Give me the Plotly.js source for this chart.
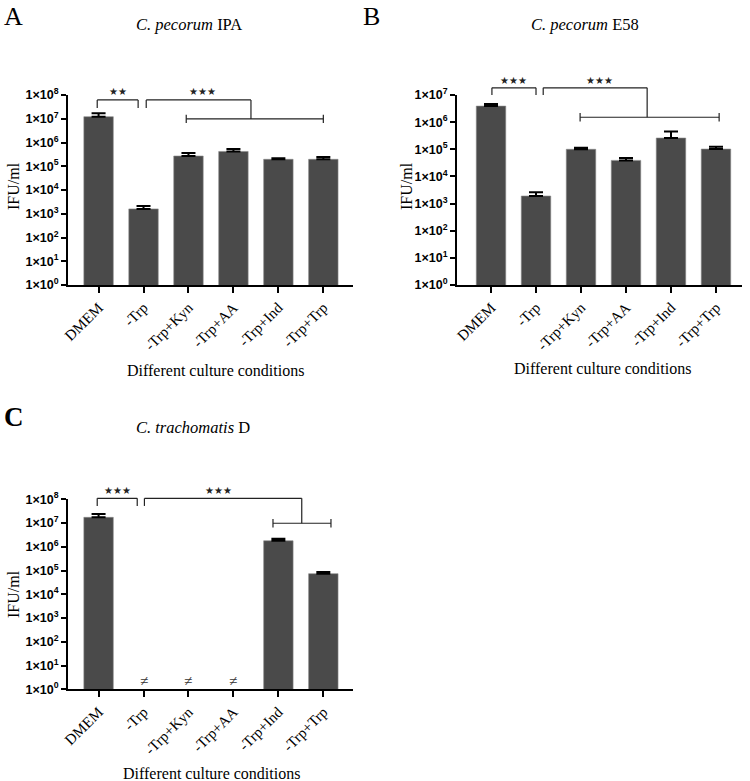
<!DOCTYPE html>
<html>
<head>
<meta charset="utf-8">
<script src="https://cdn.plot.ly/plotly-3.0.1.min.js"></script>
<style>html,body{margin:0;padding:0;background:#fff;}#chart{width:750px;height:781px;}</style>
</head>
<body>
<div id="chart"></div>
<script>
const categories = ['DMEM', '-Trp', '-Trp+Kyn', '-Trp+AA', '-Trp+Ind', '-Trp+Trp'];
const ipaValues = [1.22e7, 1.6e3, 2.7e5, 4.2e5, 1.96e5, 1.96e5];
const ipaErrors = [5e6, 5e2, 9e4, 1.1e5, 2e4, 5e4];
const e58Values = [3.9e6, 1.9e3, 1.0e5, 3.9e4, 2.6e5, 1.02e5];
const e58Errors = [8e5, 7e2, 1.4e4, 9e3, 1.9e5, 2.3e4];
const ctdValues = [1.74e7, null, null, null, 1.8e6, 7.4e4];
const ctdErrors = [6.6e6, 0, 0, 0, 4e5, 1.3e4];
const notDetected = ['-Trp', '-Trp+Kyn', '-Trp+AA'];
const tickValsA = [1, 10, 100, 1e3, 1e4, 1e5, 1e6, 1e7, 1e8];
const tickTextA = ['1×10<sup>0</sup>', '1×10<sup>1</sup>', '1×10<sup>2</sup>', '1×10<sup>3</sup>', '1×10<sup>4</sup>', '1×10<sup>5</sup>', '1×10<sup>6</sup>', '1×10<sup>7</sup>', '1×10<sup>8</sup>'];
const tickValsB = tickValsA.slice(0, 8);
const tickTextB = tickTextA.slice(0, 8);

const W = 750, H = 781;
const px = v => v / W;
const py = v => 1 - v / H;
const BAR = '#4a4a4a';
const SERIF = 'Liberation Serif, Times New Roman, serif';
const SANS = 'Liberation Sans, Arial, sans-serif';

function barTrace(vals, errs, xa, ya) {
  return {
    type: 'bar', x: categories, y: vals, xaxis: xa, yaxis: ya,
    marker: {color: BAR, line: {color: '#8a8a8a', width: 0.6}},
    error_y: {type: 'data', array: errs, arrayminus: errs.map(() => 0), symmetric: false,
              color: '#000', thickness: 2, width: 7},
    hoverinfo: 'skip', showlegend: false
  };
}

const traces = [
  barTrace(ipaValues, ipaErrors, 'x', 'y'),
  barTrace(e58Values, e58Errors, 'x2', 'y2'),
  barTrace(ctdValues, ctdErrors, 'x3', 'y3')
];

function xAxis(domain, range) {
  return {
    domain: domain, range: range, type: 'category', showgrid: false, zeroline: false,
    showline: true, linecolor: '#000', linewidth: 2, ticks: 'outside', ticklen: 6, tickwidth: 2,
    tickcolor: '#000', tickangle: -45, tickfont: {family: SERIF, size: 15, color: '#000'},
    fixedrange: true
  };
}
function yAxis(domain, range, tv, tt, anchor) {
  return {
    domain: domain, range: range, type: 'log', anchor: anchor, showgrid: false, zeroline: false,
    showline: true, linecolor: '#000', linewidth: 2, ticks: 'outside', ticklen: 5, tickwidth: 2,
    tickcolor: '#000', tickvals: tv, ticktext: tt,
    tickfont: {family: SANS, size: 12.5, color: '#000', weight: 'bold'}, fixedrange: true
  };
}

const shapes = [];
function seg(xa, ya, x0, y0, x1, y1) {
  shapes.push({type: 'line', xref: xa, yref: ya + ' domain', x0: x0, y0: y0, x1: x1, y1: y1,
               line: {color: '#222', width: 1.2}});
}
function bracket(xa, ya, a0, a1, top, leg) {
  seg(xa, ya, a0, leg, a0, top); seg(xa, ya, a0, top, a1, top); seg(xa, ya, a1, top, a1, leg);
}
function group(xa, ya, l0, stem, top, leg, low, g0, g1) {
  seg(xa, ya, l0, leg, l0, top); seg(xa, ya, l0, top, stem, top); seg(xa, ya, stem, top, stem, low);
  seg(xa, ya, g0, low, g1, low);
  seg(xa, ya, g0, low - 0.022, g0, low + 0.022); seg(xa, ya, g1, low - 0.022, g1, low + 0.022);
}
// Panel A
bracket('x', 'y', -0.03, 0.88, 0.974, 0.932);
group('x', 'y', 1.06, 3.39, 0.974, 0.932, 0.874, 1.95, 5.0);
// Panel B
bracket('x2', 'y2', 0.02, 1.0, 1.038, 1.0);
group('x2', 'y2', 1.16, 3.47, 1.038, 1.0, 0.883, 1.98, 5.07);
// Panel C
bracket('x3', 'y3', -0.03, 0.86, 1.005, 0.965);
group('x3', 'y3', 1.02, 4.52, 1.005, 0.965, 0.874, 3.88, 5.17);

const annotations = [];
function txt(x, y, text, size, opts) {
  annotations.push(Object.assign({xref: 'paper', yref: 'paper', x: px(x), y: py(y), text: text,
    showarrow: false, xanchor: 'center', yanchor: 'middle',
    font: {family: SERIF, size: size, color: '#000'}}, opts || {}));
}
function stars(xa, ya, x, y, text) {
  annotations.push({xref: xa, yref: ya + ' domain', x: x, y: y, text: text, showarrow: false,
    xanchor: 'center', yanchor: 'middle', font: {family: 'DejaVu Sans', size: 10, color: '#222'}});
}
// Panel letters
txt(13, 0, 'A', 26, {yanchor: 'top'});
txt(371, 0, 'B', 26, {yanchor: 'top'});
txt(14, 400, '<b>C</b>', 27, {yanchor: 'top'});
// Titles
txt(189, 24, '<i>C. pecorum</i> IPA', 16.5);
txt(585, 24, '<i>C. pecorum</i> E58', 16.5);
txt(193, 427, '<i>C. trachomatis</i> D', 16.5);
// Y titles
txt(13, 186, 'IFU/ml', 16, {textangle: -90});
txt(406, 186, 'IFU/ml', 16, {textangle: -90});
txt(13, 594, 'IFU/ml', 16, {textangle: -90});
// X titles
txt(215, 370, 'Different culture conditions', 16);
txt(602, 368, 'Different culture conditions', 16);
txt(211, 773, 'Different culture conditions', 16);
// Stars
stars('x', 'y', 0.43, 1.018, '★★');
stars('x', 'y', 2.32, 1.018, '★★★');
stars('x2', 'y2', 0.51, 1.074, '★★★');
stars('x2', 'y2', 2.42, 1.074, '★★★');
stars('x3', 'y3', 0.43, 1.044, '★★★');
stars('x3', 'y3', 2.66, 1.044, '★★★');
// not detected marks
notDetected.forEach(c => annotations.push({xref: 'x3', yref: 'y3 domain', x: c, y: 0.045, text: '≠',
  showarrow: false, xanchor: 'center', yanchor: 'middle', font: {family: SERIF, size: 15, color: '#333'}}));

const layout = {
  width: W, height: H, margin: {l: 0, r: 0, t: 0, b: 0},
  paper_bgcolor: '#fff', plot_bgcolor: '#fff', bargap: 0.345, showlegend: false,
  xaxis: Object.assign(xAxis([px(68), px(353)], [-0.68, 5.66]), {anchor: 'y'}),
  yaxis: yAxis([py(285), py(95)], [0, 8], tickValsA, tickTextA, 'x'),
  xaxis2: Object.assign(xAxis([px(457), px(742)], [-0.756, 5.578]), {anchor: 'y2'}),
  yaxis2: yAxis([py(285), py(95)], [0, 7], tickValsB, tickTextB, 'x2'),
  xaxis3: Object.assign(xAxis([px(68), px(353)], [-0.68, 5.66]), {anchor: 'y3'}),
  yaxis3: yAxis([py(689.3), py(499.3)], [0, 8], tickValsA, tickTextA, 'x3'),
  shapes: shapes, annotations: annotations
};
Plotly.newPlot('chart', traces, layout, {staticPlot: true, displayModeBar: false});
</script>
</body>
</html>
